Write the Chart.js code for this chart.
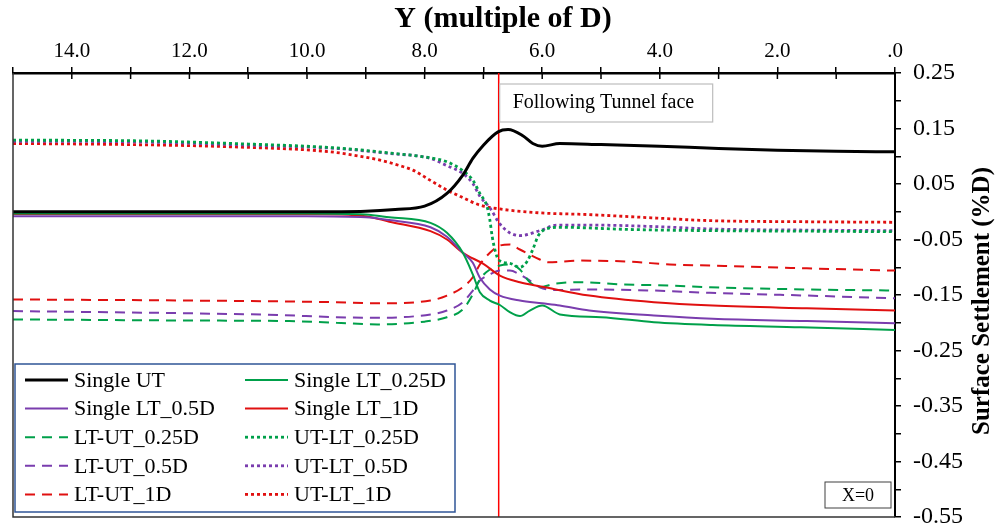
<!DOCTYPE html>
<html>
<head>
<meta charset="utf-8">
<script src="https://cdn.jsdelivr.net/npm/chart.js@4.4.1/dist/chart.umd.min.js"></script>
<style>
  html, body { margin: 0; padding: 0; background: #fff; }
  #wrap { width: 999px; height: 527px; position: relative; }
</style>
</head>
<body>
<div id="wrap"><canvas id="myChart"></canvas></div>
<script>
  // [Y (multiple of D), surface settlement (%D)]
  const singleUT = [[15,0.0],[12,0.0],[10,0.0],[9,0.001],[8.5,0.004],[8,0.01],[7.62,0.033],[7.35,0.066],[7.18,0.096],[7.0,0.12],[6.75,0.144],[6.58,0.148],[6.33,0.137],[6.16,0.123],[6.0,0.118],[5.7,0.123],[5.0,0.121],[4.0,0.118],[3.0,0.114],[2.0,0.111],[1.0,0.109],[0,0.108]]
  const singleLT025 = [[15,-0.003],[10,-0.003],[9,-0.005],[8.6,-0.01],[7.9,-0.02],[7.62,-0.038],[7.35,-0.074],[7.18,-0.113],[7.06,-0.145],[6.89,-0.16],[6.72,-0.168],[6.55,-0.181],[6.38,-0.188],[6.21,-0.178],[6.0,-0.169],[5.7,-0.185],[5.0,-0.19],[4.1,-0.199],[3.1,-0.204],[1.6,-0.208],[0,-0.213]]
  const singleLT05 = [[15,-0.008],[10,-0.008],[9,-0.01],[8.6,-0.015],[7.9,-0.028],[7.62,-0.045],[7.35,-0.074],[7.18,-0.092],[7.06,-0.119],[6.89,-0.14],[6.72,-0.151],[6.38,-0.16],[6.0,-0.165],[5.7,-0.169],[5.2,-0.178],[4.1,-0.187],[3.1,-0.193],[1.5,-0.197],[0,-0.201]]
  const singleLT1 = [[15,-0.004],[10,-0.004],[9,-0.008],[8.6,-0.018],[7.9,-0.035],[7.62,-0.05],[7.35,-0.074],[7.0,-0.094],[6.72,-0.115],[6.38,-0.127],[6.0,-0.135],[5.2,-0.151],[4.1,-0.163],[3.1,-0.169],[1.5,-0.174],[0,-0.178]]
  const ltUt025 = [[15,-0.194],[12,-0.196],[10.3,-0.197],[9.5,-0.2],[8.8,-0.203],[8.0,-0.198],[7.62,-0.19],[7.35,-0.176],[7.18,-0.149],[7.06,-0.122],[6.89,-0.104],[6.72,-0.097],[6.55,-0.095],[6.38,-0.104],[6.21,-0.127],[6.04,-0.136],[5.8,-0.13],[5.4,-0.127],[4.6,-0.131],[3.8,-0.133],[3.15,-0.136],[1.5,-0.14],[0,-0.142]]
  const utLt025 = [[15,0.129],[13,0.128],[11,0.122],[9.5,0.115],[8.6,0.106],[7.9,0.097],[7.62,0.09],[7.35,0.074],[7.18,0.057],[7.06,0.033],[6.94,0.01],[6.89,-0.015],[6.85,-0.045],[6.8,-0.07],[6.74,-0.087],[6.55,-0.093],[6.38,-0.1],[6.26,-0.09],[6.16,-0.068],[6.06,-0.042],[5.9,-0.03],[5.7,-0.028],[4.5,-0.032],[3.2,-0.034],[1.5,-0.035],[0,-0.036]]
  const ltUt05 = [[15,-0.179],[12,-0.183],[10.5,-0.186],[9.5,-0.19],[8.8,-0.191],[7.9,-0.185],[7.62,-0.178],[7.35,-0.163],[7.18,-0.142],[7.06,-0.124],[6.89,-0.113],[6.72,-0.106],[6.55,-0.106],[6.38,-0.113],[6.21,-0.124],[6.04,-0.136],[5.8,-0.141],[5.2,-0.14],[4.1,-0.142],[3.15,-0.146],[1.5,-0.151],[0,-0.156]]
  const utLt05 = [[15,0.127],[13,0.126],[11,0.12],[9.5,0.114],[8.6,0.105],[7.9,0.096],[7.62,0.083],[7.35,0.069],[7.18,0.051],[7.06,0.028],[6.89,0.007],[6.72,-0.022],[6.55,-0.038],[6.38,-0.043],[6.04,-0.034],[5.75,-0.024],[5.2,-0.024],[4.0,-0.027],[3.15,-0.031],[1.5,-0.033],[0,-0.034]]
  const ltUt1 = [[15,-0.158],[12,-0.16],[9.5,-0.163],[8.8,-0.165],[7.9,-0.16],[7.62,-0.151],[7.35,-0.136],[7.18,-0.118],[7.06,-0.095],[6.89,-0.074],[6.72,-0.061],[6.55,-0.059],[6.38,-0.068],[6.04,-0.086],[5.9,-0.091],[5.35,-0.088],[4.5,-0.09],[3.83,-0.095],[3.15,-0.097],[1.5,-0.102],[0,-0.106]]
  const utLt1 = [[15,0.123],[13,0.121],[11.3,0.117],[9.6,0.108],[9.1,0.1],[8.76,0.093],[8.42,0.083],[8.2,0.075],[7.91,0.057],[7.62,0.039],[7.4,0.028],[7.06,0.012],[6.72,0.005],[6.04,-0.002],[5.24,-0.005],[4.12,-0.011],[3.15,-0.016],[1.5,-0.018],[0,-0.019]]

  const tunnelFace = 6.74
  const xTitle = 'Y (multiple of D)'
  const yTitle = 'Surface Settlement (%D)'

  const BLACK = '#000000'
  const GREEN = '#00A04A'
  const PURPLE = '#7A3DAE'
  const RED = '#E01010'
  const SOLID = []
  const DASH = [10, 7]
  const DOT = [3, 3]

  const series = [
    { label: 'Single UT', data: singleUT, color: BLACK, dash: SOLID, width: 3 },
    { label: 'Single LT_0.25D', data: singleLT025, color: GREEN, dash: SOLID, width: 2 },
    { label: 'Single LT_0.5D', data: singleLT05, color: PURPLE, dash: SOLID, width: 2 },
    { label: 'Single LT_1D', data: singleLT1, color: RED, dash: SOLID, width: 2 },
    { label: 'LT-UT_0.25D', data: ltUt025, color: GREEN, dash: DASH, width: 2 },
    { label: 'UT-LT_0.25D', data: utLt025, color: GREEN, dash: DOT, width: 2.8 },
    { label: 'LT-UT_0.5D', data: ltUt05, color: PURPLE, dash: DASH, width: 2 },
    { label: 'UT-LT_0.5D', data: utLt05, color: PURPLE, dash: DOT, width: 2.8 },
    { label: 'LT-UT_1D', data: ltUt1, color: RED, dash: DASH, width: 2 },
    { label: 'UT-LT_1D', data: utLt1, color: RED, dash: DOT, width: 2.8 },
  ]

  const datasets = series.map(s => ({
    label: s.label,
    data: s.data.map(p => ({ x: p[0], y: p[1] })),
    borderColor: s.color,
    backgroundColor: s.color,
    borderDash: s.dash,
    borderWidth: s.width,
    pointRadius: 0,
    fill: false,
    cubicInterpolationMode: 'monotone',
  }))

  datasets.push({
    label: 'face',
    data: [{ x: tunnelFace, y: 0.25 }, { x: tunnelFace, y: -0.55 }],
    borderColor: '#FF0000',
    borderWidth: 1.5,
    pointRadius: 0,
    fill: false,
  })

  const SERIF = '"Liberation Serif", "Times New Roman", serif'

  const extras = {
    id: 'extras',
    afterDraw(chart) {
      const { ctx, chartArea: a, scales } = chart
      const xs = scales.x
      ctx.save()

      // frame (left + bottom)
      ctx.strokeStyle = '#333'
      ctx.lineWidth = 1.5
      ctx.beginPath()
      ctx.moveTo(a.left, a.top)
      ctx.lineTo(a.left, a.bottom)
      ctx.lineTo(a.right, a.bottom)
      ctx.stroke()

      // x ticks cross into plot
      ctx.strokeStyle = '#000'
      ctx.lineWidth = 1.5
      xs.ticks.forEach(t => {
        if (t.value === 15) return
        const px = xs.getPixelForValue(t.value)
        ctx.beginPath()
        ctx.moveTo(px, a.top)
        ctx.lineTo(px, a.top + 6)
        ctx.stroke()
      })

      // titles
      ctx.fillStyle = '#000'
      ctx.font = 'bold 30px ' + SERIF
      ctx.textAlign = 'center'
      ctx.textBaseline = 'middle'
      ctx.fillText(xTitle, 503, 19)

      ctx.save()
      ctx.translate(983, 301)
      ctx.rotate(-Math.PI / 2)
      ctx.font = 'bold 25px ' + SERIF
      ctx.fillText(yTitle, 0, 0)
      ctx.restore()

      // tunnel face label
      const fx = xs.getPixelForValue(tunnelFace) + 1
      ctx.fillStyle = '#fff'
      ctx.fillRect(fx, a.top + 11, 213, 38)
      ctx.strokeStyle = '#BDBDBD'
      ctx.lineWidth = 1.2
      ctx.strokeRect(fx, a.top + 11, 213, 38)
      ctx.fillStyle = '#000'
      ctx.font = '20px ' + SERIF
      ctx.textAlign = 'left'
      ctx.fillText('Following Tunnel face', fx + 13, a.top + 30)

      // X=0 box
      ctx.fillStyle = '#fff'
      ctx.fillRect(a.right - 70, a.bottom - 35, 66, 26)
      ctx.strokeStyle = '#404040'
      ctx.lineWidth = 1
      ctx.strokeRect(a.right - 70, a.bottom - 35, 66, 26)
      ctx.fillStyle = '#000'
      ctx.font = '18px ' + SERIF
      ctx.textAlign = 'center'
      ctx.fillText('X=0', a.right - 37, a.bottom - 21)

      // legend
      const bx = a.left + 2, by = a.bottom - 153, bw = 440, bh = 148
      ctx.fillStyle = '#fff'
      ctx.fillRect(bx, by, bw, bh)
      ctx.strokeStyle = '#2F5597'
      ctx.lineWidth = 1.5
      ctx.strokeRect(bx, by, bw, bh)
      ctx.font = '22px ' + SERIF
      ctx.textAlign = 'left'
      series.forEach((s, i) => {
        const col = i % 2, row = Math.floor(i / 2)
        const lx = col === 0 ? 25 : 245
        const ly = by + 16 + row * 28.6
        ctx.strokeStyle = s.color
        ctx.lineWidth = s.width
        ctx.setLineDash(s.dash)
        ctx.beginPath()
        ctx.moveTo(lx, ly)
        ctx.lineTo(lx + 43, ly)
        ctx.stroke()
        ctx.setLineDash([])
        ctx.fillStyle = '#000'
        ctx.fillText(s.label, lx + 49, ly + 1)
      })

      ctx.restore()
    }
  }

  new Chart(document.getElementById('myChart'), {
    type: 'line',
    data: { datasets },
    plugins: [extras],
    options: {
      responsive: true,
      maintainAspectRatio: false,
      animation: false,
      layout: { padding: { left: 13, right: 0, top: 0, bottom: 10 } },
      plugins: {
        legend: { display: false },
        tooltip: { enabled: false }
      },
      scales: {
        x: {
          type: 'linear',
          position: 'top',
          reverse: true,
          min: 0,
          max: 15,
          afterFit: s => { s.height = 73; s.paddingLeft = 0; s.paddingRight = 0 },
          border: { display: true, color: '#000', width: 2.5 },
          grid: { drawOnChartArea: false, drawTicks: true, tickLength: 6, color: '#000', lineWidth: 1.5 },
          ticks: {
            stepSize: 1,
            autoSkip: false,
            maxRotation: 0,
            padding: 3,
            color: '#000',
            font: { family: SERIF, size: 21 },
            callback: v => (v % 2 === 0 ? (v === 0 ? '.0' : v.toFixed(1)) : '')
          }
        },
        y: {
          type: 'linear',
          position: 'right',
          min: -0.55,
          max: 0.25,
          afterFit: s => { s.width = 104; s.paddingTop = 0; s.paddingBottom = 0 },
          border: { display: true, color: '#000', width: 2 },
          grid: { drawOnChartArea: false, drawTicks: true, tickLength: 6, color: '#000', lineWidth: 1.5 },
          ticks: {
            stepSize: 0.05,
            autoSkip: false,
            padding: 12,
            color: '#000',
            font: { family: SERIF, size: 24 },
            callback: v => {
              const n = Math.round(v * 100)
              return (Math.abs(n) / 5) % 2 === 1 ? (n / 100).toFixed(2) : ''
            }
          }
        }
      }
    }
  })
</script>
</body>
</html>
